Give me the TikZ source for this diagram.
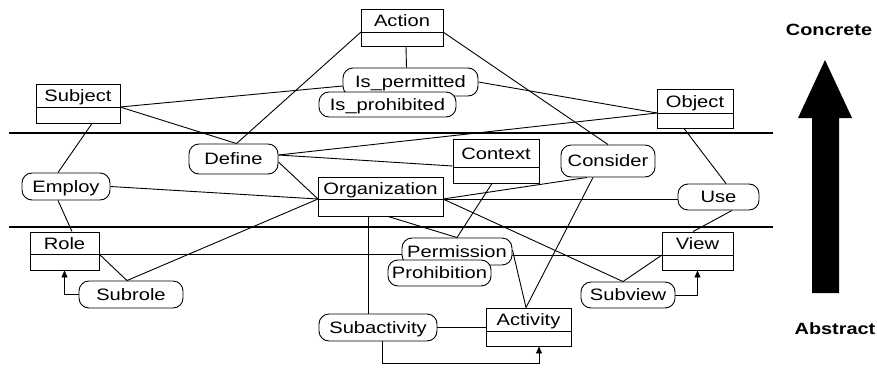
\documentclass[tikz,border=0pt]{standalone}
\usepackage{fontspec}
\setmainfont[FakeStretch=1.22]{Liberation Sans}
\usetikzlibrary{fit,backgrounds,arrows.meta,calc}
\tikzset{
  ln/.style={line width=0.9pt},
  cls/.style={draw, ln, fill=white, inner sep=0pt},
  rnd/.style={draw, ln, fill=white, rounded corners=10pt, inner sep=0pt,
    text height=11.8pt, text depth=0pt},
  sep/.style={line width=2pt},
  tip/.style={-{Triangle[width=6pt,length=7pt]}},
  every node/.style={font=\fontsize{16.5}{19}\selectfont}
}
\newcommand\clsbox[7]{%
  \coordinate (#1nw) at (#2,#3);
  \coordinate (#1se) at (#4,#5);
  \node[cls, fit=(#1nw)(#1se)] (#1) {};
  \draw[ln] (#2,#6) coordinate (#1dw) -- (#4,#6) coordinate (#1de);
  \node[anchor=base, inner sep=0pt] (#1t) at ({(#2+#4)/2},{(#3+#6)/2+6}) {#7};
}
\begin{document}
\begin{tikzpicture}[x=1pt,y=-1pt]
\useasboundingbox (0,0) rectangle (877,367);
% layer separators
\draw[sep] (9,133) -- (773,133);
\draw[sep] (9,227) -- (773,227);
% class boxes
\clsbox{act}{361}{9}{443}{46}{32}{Action}
\clsbox{subj}{36}{84}{120}{123}{107}{Subject}
\clsbox{obj}{657}{89}{733}{128}{113}{Object}
\clsbox{ctx}{453}{139}{539}{183}{167}{Context}
\clsbox{org}{318}{177}{443}{216}{199}{Organization}
\clsbox{role}{30}{232}{99}{270}{254}{Role}
\clsbox{view}{662}{232}{733}{270}{255}{View}
\clsbox{activ}{486}{308}{571}{346}{331}{Activity}
% relation nodes
\node[rnd, minimum width=135pt, minimum height=28pt] (isp) at (410.5,82) {Is\_permitted};
\node[rnd, minimum width=137pt, minimum height=25pt] (isr) at (387.5,104.5) {Is\_prohibited};
\node[rnd, minimum width=89pt, minimum height=30pt] (def) at (233.5,159) {Define};
\node[rnd, minimum width=88pt, minimum height=27pt] (emp) at (66,186.5) {Employ};
\node[rnd, minimum width=94pt, minimum height=32pt] (cons) at (608,161) {Consider};
\node[rnd, minimum width=81pt, minimum height=26pt] (use) at (718.5,197) {Use};
\node[rnd, minimum width=110pt, minimum height=27pt] (pmn) at (457,251.5) {Permission};
\node[rnd, minimum width=103pt, minimum height=26pt] (prh) at (439.5,273) {Prohibition};
\node[rnd, minimum width=104pt, minimum height=27pt] (subr) at (131,294.5) {Subrole};
\node[rnd, minimum width=94pt, minimum height=26pt] (subv) at (628,295) {Subview};
\node[rnd, minimum width=118pt, minimum height=27pt] (suba) at (378,327.5) {Subactivity};
% abstraction arrow and labels
\fill (812,293) -- (812,118) -- (798,118) -- (825,60) -- (852,118) -- (839,118) -- (839,293) -- cycle;
\node[font=\fontsize{16.3}{19}\selectfont\bfseries] (conc) at (829,30) {Concrete};
\node[font=\fontsize{16.3}{19}\selectfont\bfseries] (abst) at (835,329) {Abstract};
% connectors
\begin{pgfonlayer}{background}
\draw[ln] ([xshift=4pt]act.south) -- ([xshift=-4pt]isp.north);
\draw[ln] (actdw) -- ([xshift=3pt]def.north);
\draw[ln] (actde) -- (cons.north);
\draw[ln] (subjde) -- ([yshift=-4pt]isp.west);
\draw[ln] (subjde) -- ([xshift=3pt]def.north);
\draw[ln] ([xshift=14pt]subj.south) -- ([xshift=-8pt]emp.north);
\draw[ln] (isp.east) -- (objdw);
\draw[ln] ([yshift=4pt]def.east) -- (objdw);
\draw[ln] ([yshift=4pt]def.east) -- ([yshift=-5pt]ctx.west);
\draw[ln] ([yshift=-3pt]def.east) -- (orgdw);
\draw[ln] (emp.east) -- (orgdw);
\draw[ln] ([xshift=-8pt]emp.south) -- ([xshift=7.5pt]role.north);
\draw[ln] (orgdw) -- ([xshift=-4pt]subr.north);
\draw[ln] (rolede) -- ([xshift=-4pt]subr.north);
\draw[ln] (rolede) -- (rolede -| pmn.west);
\draw[ln] (pmn.east |- viewdw) -- (viewdw);
\draw[ln,tip] (subr.west) -| (role.south);
\draw[ln] ([xshift=-4pt]ctx.south) -- (pmn.north);
\draw[ln] (orgde) -- ([xshift=-21pt]cons.south);
\draw[ln] (orgde) -- (orgde -| use.west);
\draw[ln] (orgde) -- ([xshift=-5pt]subv.north);
\draw[ln] ([xshift=7.5pt]org.south) -- (pmn.north);
\draw[ln] ([xshift=-12.5pt]org.south) -- ([xshift=-12.5pt]org.south |- suba.north);
\draw[ln] ([xshift=-15pt]cons.south) -- ([xshift=-2.5pt]activ.north);
\draw[ln] ([yshift=1.5pt]pmn.east) -- ([xshift=-2.5pt]activ.north);
\draw[ln] (suba.east) -- (suba.east -| activ.west);
\draw[ln,tip] ([xshift=4pt]suba.south) -- ++(0,22) -| ([xshift=10.5pt]activ.south);
\draw[ln] ([xshift=-11pt]obj.south) -- ([xshift=7.5pt]use.north);
\draw[ln] ([xshift=13.5pt]use.south) -- ([xshift=-4.5pt]view.north);
\draw[ln] (viewdw) -- ([xshift=-5pt]subv.north);
\draw[ln,tip] (subv.east) -| (view.south);
\end{pgfonlayer}
\end{tikzpicture}
\end{document}
